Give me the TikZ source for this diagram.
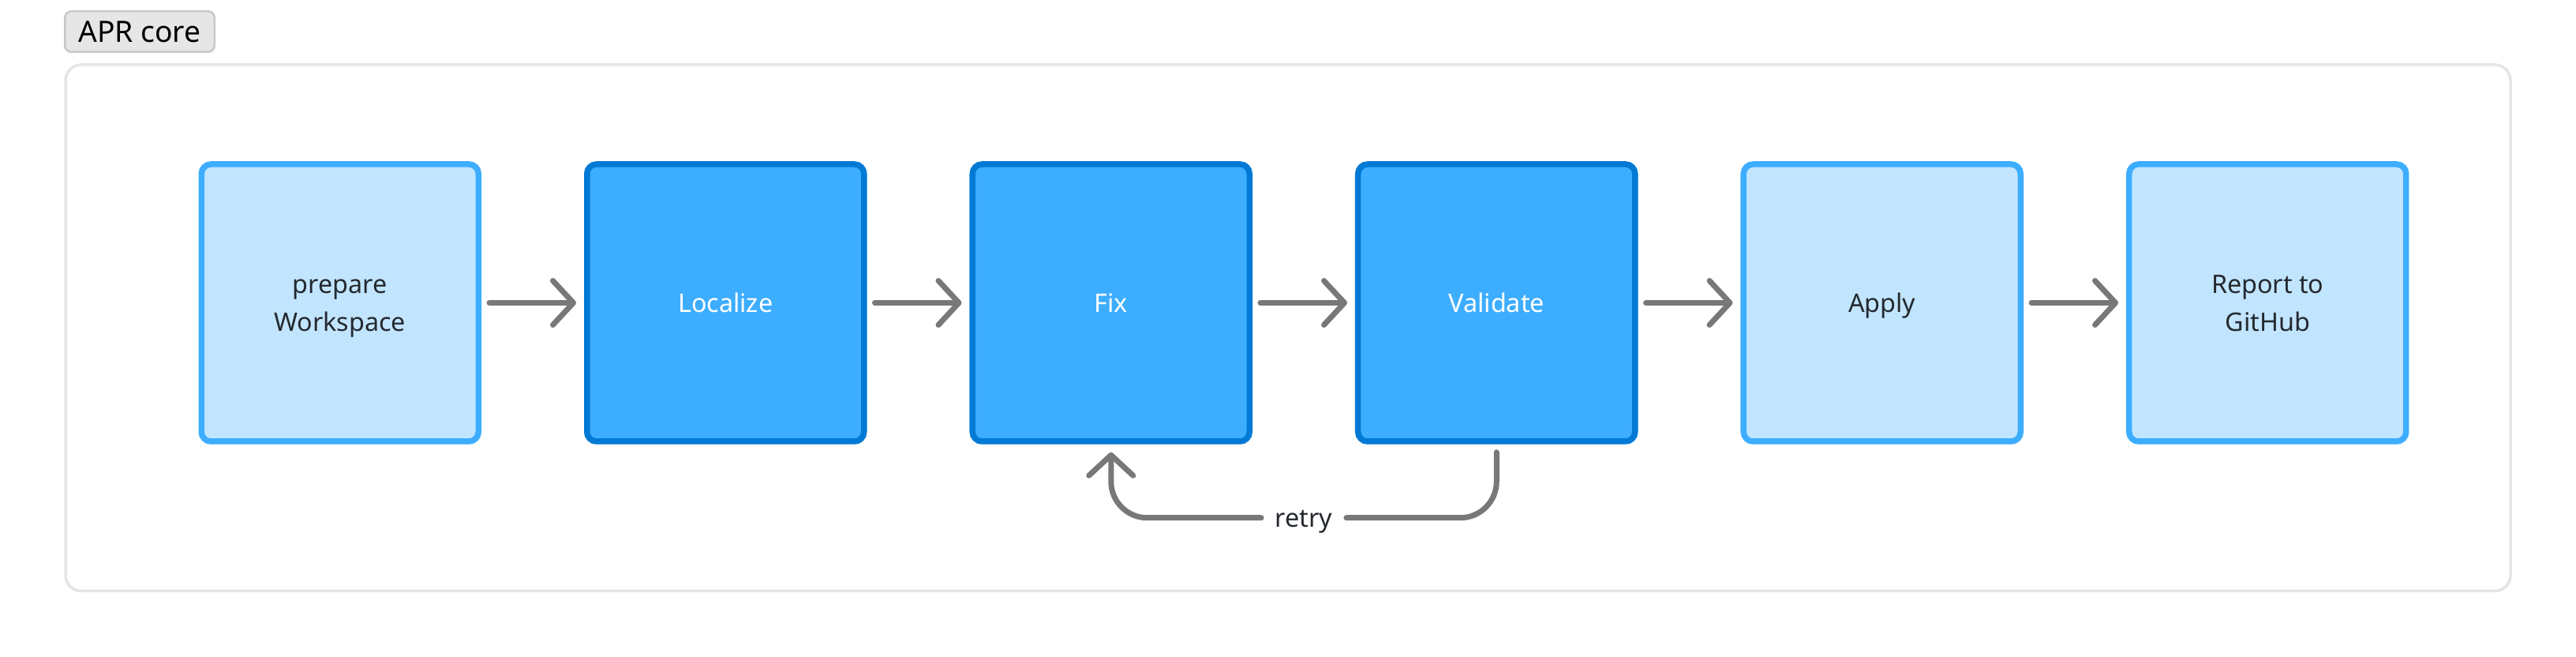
\documentclass[tikz,border=0pt]{standalone}
\usepackage{fontspec}
\setmainfont{Noto Sans}
\usepackage{tikz}
\usetikzlibrary{arrows.meta}
\usetikzlibrary{calc}
\usetikzlibrary{positioning}
\definecolor{paleblue}{RGB}{194,229,255}
\definecolor{midblue}{RGB}{61,173,255}
\definecolor{deepblue}{RGB}{0,122,212}
\definecolor{flowgray}{RGB}{120,120,120}
\definecolor{inkdark}{RGB}{36,41,47}
\definecolor{framegray}{RGB}{229,229,229}
\definecolor{labelfill}{RGB}{230,230,230}
\definecolor{labelline}{RGB}{200,200,200}
\tikzset{>={Straight Barb[length=0.26cm,width=0.56cm,round]}}
\tikzset{flow/.style={draw=flowgray,line width=0.07cm,line cap=round,->,shorten >=0.1cm,shorten <=0.1cm}}
\tikzset{retryline/.style={draw=flowgray,line width=0.07cm,line cap=round,rounded corners=0.46cm}}
\tikzset{stage/.style={rectangle,rounded corners=0.12cm,line width=0.075cm,minimum width=3.51cm,minimum height=3.51cm,align=center,text height=6.6pt,text depth=0pt,font=\fontsize{9.2}{13.7}\selectfont}}
\tikzset{twolines/.style={text height=20.3pt}}
\tikzset{plain/.style={stage,draw=midblue,fill=paleblue,text=inkdark}}
\tikzset{strong/.style={stage,draw=deepblue,fill=midblue,text=white}}
\tikzset{flows/.style={every edge/.style=flow}}
\tikzset{stages/.style={column sep=1.3cm}}

\begin{document}
\begin{tikzpicture}
  \useasboundingbox (0,0) rectangle (32.64,-8.32);
  \draw [framegray,line width=0.035cm,rounded corners=0.2cm,fill=white] (0.83,-0.82) rectangle (31.81,-7.485);
  \node [draw=labelline,fill=labelfill,line width=0.025cm,rounded corners=0.08cm,minimum width=1.895cm,minimum height=0.515cm,inner sep=0pt,font=\fontsize{10.6}{12}\selectfont] (core) at (1.77,-0.40) {APR core};
  \matrix [stages] at (16.52,-3.835)
  {
    \node [plain,twolines] (P) {prepare\\Workspace}; &
    \node [strong] (L) {Localize}; &
    \node [strong] (F) {Fix}; &
    \node [strong] (V) {Validate}; &
    \node [plain] (A) {Apply}; &
    \node [plain,twolines] (R) {Report to\\GitHub}; \\
  };
  \path [flows]
  (P) edge (L)
  (L) edge (F)
  (F) edge (V)
  (V) edge (A)
  (A) edge (R);
  % loop back from Validate to Fix
  \node [text=inkdark,inner sep=0.17cm,text height=6.6pt,text depth=0pt,font=\fontsize{9.2}{13.7}\selectfont] (retry) at ($(F.south)!0.5!(V.south)+(0,-0.93)$) {retry};
  \draw [retryline] ([yshift=-0.1cm]V.south) |- (retry.east);
  \draw [retryline,->] (retry.west) -| ([yshift=-0.1cm]F.south);
\end{tikzpicture}
\end{document}
